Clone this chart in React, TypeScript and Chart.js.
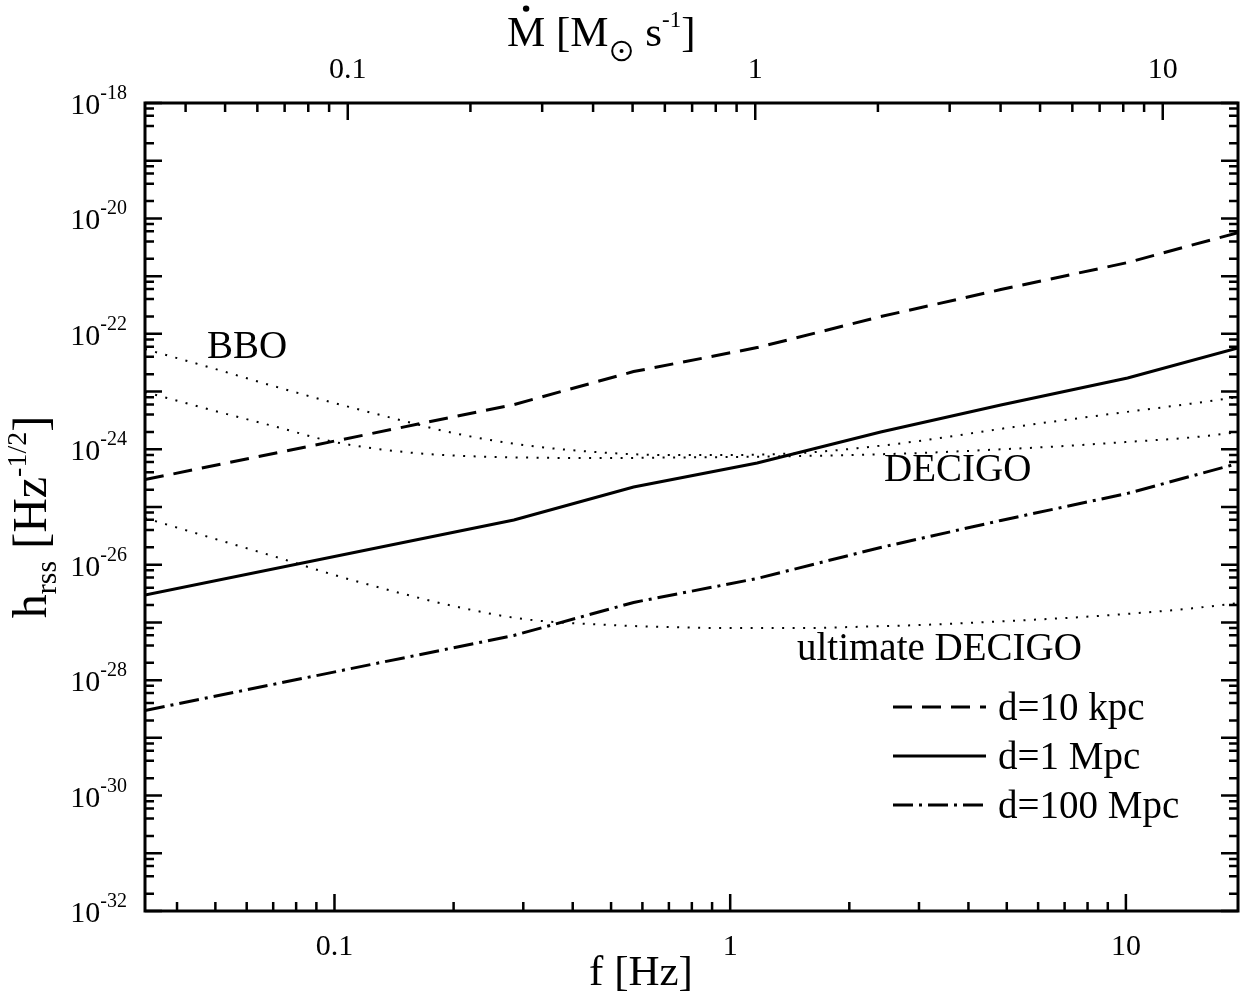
import React, { useEffect, useRef } from "react";
import { Chart, registerables } from "chart.js";

Chart.register(...registerables);

// ---------- axes ----------
const F_MIN = 0.0332;
const F_MAX = 19.2;
const F_LABELS = ["0.1", "1", "10"];
const MDOT_MIN = 0.0318;
const MDOT_MAX = 15.3;
const MDOT_LABELS = ["0.1", "1", "10"];
const H_MIN = 1e-32;
const H_MAX = 1e-18;
const H_LABEL_EXPS = [-18, -20, -22, -24, -26, -28, -30, -32];

// ---------- signal lines ----------
const F_SIGNAL = [0.0332, 0.284, 0.57, 1.17, 2.4, 4.83, 10.1, 19.2];
const H_10KPC = [2.98e-25, 5.95e-24, 2.22e-23, 5.78e-23, 1.99e-22, 5.85e-22, 1.72e-21, 5.68e-21];
const H_1MPC = [2.98e-27, 5.95e-26, 2.22e-25, 5.78e-25, 1.99e-24, 5.85e-24, 1.72e-23, 5.68e-23];
const H_100MPC = [2.98e-29, 5.95e-28, 2.22e-27, 5.78e-27, 1.99e-26, 5.85e-26, 1.72e-25, 5.68e-25];

// ---------- detector noise curves ----------
const F_NOISE = [0.0332, 0.05, 0.07, 0.1, 0.15, 0.2, 0.3, 0.5, 0.7, 1, 1.5, 2, 3, 5, 7, 10, 15, 19.2];
const H_BBO = [5.46e-23, 2.46e-23, 1.25e-23, 6.33e-24, 3.09e-24, 1.91e-24, 1.185e-24, 8.61e-25, 7.95e-25, 7.95e-25, 8.61e-25, 1.01e-24, 1.39e-24, 2.34e-24, 3.21e-24, 4.42e-24, 6.33e-24, 8.05e-24];
const H_DECIGO = [9.82e-24, 4.6e-24, 2.53e-24, 1.336e-24, 8.97e-25, 7.8e-25, 7.2e-25, 7.05e-25, 7.2e-25, 7.34e-25, 7.64e-25, 7.95e-25, 8.61e-25, 1.01e-24, 1.14e-24, 1.336e-24, 1.63e-24, 1.99e-24];
const H_ULTIMATE = [6.44e-26, 2.79e-26, 1.41e-26, 6.62e-27, 3.1e-27, 1.92e-27, 1.145e-27, 9.01e-28, 8.32e-28, 7.99e-28, 7.99e-28, 8.32e-28, 9.01e-28, 1.057e-27, 1.19e-27, 1.4e-27, 1.78e-27, 2.17e-27];

const SIGNAL_LABELS = ["d=10 kpc", "d=1 Mpc", "d=100 Mpc"];
const NOISE_LABELS = ["BBO", "DECIGO", "ultimate DECIGO"];

const SERIF = '"Liberation Serif", "Times New Roman", serif';
const DASH = [19, 10];
const DASHDOT = [20, 6, 3, 6];
const DOT = [2, 8.5];

function pts(xs: number[], ys: number[]) {
  return xs.map((x, i) => ({ x, y: ys[i] }));
}

function logTicks(min: number, max: number, mults: number[]) {
  const out: { v: number; major: boolean }[] = [];
  const k0 = Math.floor(Math.log10(min)) - 1;
  const k1 = Math.ceil(Math.log10(max)) + 1;
  for (let k = k0; k <= k1; k++) {
    for (const m of mults) {
      const v = m * Math.pow(10, k);
      if (v >= min * 0.9999 && v <= max * 1.0001) out.push({ v, major: m === 1 });
    }
  }
  return out;
}

type Run = { t: string; size: number; dy?: number; dot?: boolean; sun?: boolean };

function runsWidth(ctx: CanvasRenderingContext2D, runs: Run[]) {
  let w = 0;
  for (const r of runs) {
    if (r.sun) { w += r.size; continue; }
    ctx.font = `${r.size}px ${SERIF}`;
    w += ctx.measureText(r.t).width;
  }
  return w;
}

function drawRuns(ctx: CanvasRenderingContext2D, runs: Run[], x0: number, y0: number) {
  let x = x0;
  ctx.textAlign = "left";
  ctx.textBaseline = "alphabetic";
  for (const r of runs) {
    const dy = r.dy || 0;
    if (r.sun) {
      const rad = r.size * 0.36;
      ctx.beginPath();
      ctx.lineWidth = 2;
      ctx.arc(x + r.size / 2, y0 + dy, rad, 0, Math.PI * 2);
      ctx.stroke();
      ctx.beginPath();
      ctx.arc(x + r.size / 2, y0 + dy, 2, 0, Math.PI * 2);
      ctx.fill();
      x += r.size;
      continue;
    }
    ctx.font = `${r.size}px ${SERIF}`;
    ctx.fillText(r.t, x, y0 + dy);
    const w = ctx.measureText(r.t).width;
    if (r.dot) {
      ctx.beginPath();
      ctx.arc(x + w / 2, y0 + dy - r.size * 0.66 - 9, 3.2, 0, Math.PI * 2);
      ctx.fill();
    }
    x += w;
  }
}

const axesPlugin = {
  id: "customAxes",
  afterDraw(chart: any) {
    const ctx: CanvasRenderingContext2D = chart.ctx;
    const { left, right, top, bottom } = chart.chartArea;
    const sx = chart.scales.x;
    const sx2 = chart.scales.x2;
    const sy = chart.scales.y;
    ctx.save();
    ctx.strokeStyle = "#000";
    ctx.fillStyle = "#000";

    // frame
    ctx.lineWidth = 3;
    ctx.strokeRect(left, top, right - left, bottom - top);

    // ticks
    ctx.lineWidth = 2.5;
    const MAJ = 17;
    const MIN = 9;
    ctx.beginPath();
    for (const t of logTicks(F_MIN, F_MAX, [1, 2, 3, 4, 5, 6, 7, 8, 9])) {
      const p = sx.getPixelForValue(t.v);
      ctx.moveTo(p, bottom);
      ctx.lineTo(p, bottom - (t.major ? MAJ : MIN));
    }
    for (const t of logTicks(MDOT_MIN, MDOT_MAX, [1, 2, 3, 4, 5, 6, 7, 8, 9])) {
      const p = sx2.getPixelForValue(t.v);
      ctx.moveTo(p, top);
      ctx.lineTo(p, top + (t.major ? MAJ : MIN));
    }
    for (const t of logTicks(H_MIN, H_MAX, [1, 2, 4, 6, 8])) {
      const p = sy.getPixelForValue(t.v);
      ctx.moveTo(left, p);
      ctx.lineTo(left + (t.major ? MAJ : MIN), p);
      ctx.moveTo(right, p);
      ctx.lineTo(right - (t.major ? MAJ : MIN), p);
    }
    ctx.stroke();

    // tick labels
    ctx.font = `30px ${SERIF}`;
    ctx.textAlign = "center";
    ctx.textBaseline = "alphabetic";
    for (const l of F_LABELS) {
      ctx.fillText(l, sx.getPixelForValue(parseFloat(l)), bottom + 44);
    }
    for (const l of MDOT_LABELS) {
      ctx.fillText(l, sx2.getPixelForValue(parseFloat(l)), top - 25);
    }
    for (const e of H_LABEL_EXPS) {
      const p = sy.getPixelForValue(Math.pow(10, e));
      const sup = String(e);
      ctx.font = `20px ${SERIF}`;
      const sw = ctx.measureText(sup).width;
      ctx.textAlign = "left";
      const xr = left - 18;
      ctx.fillText(sup, xr - sw, p - 4);
      ctx.font = `30px ${SERIF}`;
      ctx.textAlign = "right";
      ctx.fillText("10", xr - sw, p + 11);
    }

    // axis titles
    const xTitle: Run[] = [{ t: "f [Hz]", size: 43 }];
    const wx = runsWidth(ctx, xTitle);
    drawRuns(ctx, xTitle, 641 - wx / 2, 985);

    const topTitle: Run[] = [
      { t: "M", size: 43, dot: true },
      { t: " [M", size: 43 },
      { t: "", size: 26, sun: true, dy: 5 },
      { t: " s", size: 43 },
      { t: "-1", size: 23, dy: -19 },
      { t: "]", size: 43 },
    ];
    drawRuns(ctx, topTitle, 507, 46);

    const yTitle: Run[] = [
      { t: "h", size: 48 },
      { t: "rss", size: 30, dy: 10 },
      { t: " [Hz", size: 48 },
      { t: "-1/2", size: 28, dy: -20 },
      { t: "]", size: 48 },
    ];
    const wy = runsWidth(ctx, yTitle);
    ctx.save();
    ctx.translate(46, 517);
    ctx.rotate(-Math.PI / 2);
    drawRuns(ctx, yTitle, -wy / 2, 0);
    ctx.restore();

    // curve labels
    ctx.font = `39px ${SERIF}`;
    ctx.textAlign = "left";
    ctx.fillText(NOISE_LABELS[0], 207, 358);
    ctx.fillText(NOISE_LABELS[1], 884, 481);
    ctx.fillText(NOISE_LABELS[2], 797, 660);

    // legend
    const ds = chart.data.datasets;
    const legendY = [707, 756, 805];
    for (let i = 0; i < 3; i++) {
      const d = ds[i];
      ctx.save();
      ctx.lineWidth = d.borderWidth;
      ctx.setLineDash(d.borderDash || []);
      ctx.beginPath();
      ctx.moveTo(893, legendY[i]);
      ctx.lineTo(986, legendY[i]);
      ctx.stroke();
      ctx.restore();
      ctx.font = `39px ${SERIF}`;
      ctx.textAlign = "left";
      ctx.fillText(SIGNAL_LABELS[i], 998, legendY[i] + 13);
    }
    ctx.restore();
  },
};

export default function App() {
  const ref = useRef<HTMLCanvasElement>(null);
  useEffect(() => {
    const canvas = ref.current!;
    const common = { pointRadius: 0, fill: false, borderColor: "#000", backgroundColor: "#000" };
    const chart = new Chart(canvas, {
      type: "line",
      data: {
        datasets: [
          { ...common, label: SIGNAL_LABELS[0], data: pts(F_SIGNAL, H_10KPC), borderWidth: 3, borderDash: DASH },
          { ...common, label: SIGNAL_LABELS[1], data: pts(F_SIGNAL, H_1MPC), borderWidth: 3 },
          { ...common, label: SIGNAL_LABELS[2], data: pts(F_SIGNAL, H_100MPC), borderWidth: 3, borderDash: DASHDOT },
          { ...common, label: NOISE_LABELS[0], data: pts(F_NOISE, H_BBO), borderWidth: 2, borderDash: DOT, cubicInterpolationMode: "monotone" },
          { ...common, label: NOISE_LABELS[1], data: pts(F_NOISE, H_DECIGO), borderWidth: 2, borderDash: DOT, cubicInterpolationMode: "monotone" },
          { ...common, label: NOISE_LABELS[2], data: pts(F_NOISE, H_ULTIMATE), borderWidth: 2, borderDash: DOT, cubicInterpolationMode: "monotone" },
        ] as any,
      },
      options: {
        responsive: false,
        animation: false,
        devicePixelRatio: 1,
        layout: { padding: { left: 145, top: 103, right: 4, bottom: 81 } },
        plugins: { legend: { display: false }, tooltip: { enabled: false } },
        scales: {
          x: { type: "logarithmic", position: "bottom", min: F_MIN, max: F_MAX, display: false },
          x2: { type: "logarithmic", position: "top", min: MDOT_MIN, max: MDOT_MAX, display: false },
          y: { type: "logarithmic", min: H_MIN, max: H_MAX, display: false },
        },
      } as any,
      plugins: [axesPlugin],
    });
    return () => chart.destroy();
  }, []);
  return (
    <div style={{ position: "absolute", left: 0, top: 0, width: 1242, height: 992, background: "#fff" }}>
      <canvas ref={ref} width={1242} height={992} style={{ width: 1242, height: 992, display: "block" }} />
    </div>
  );
}
